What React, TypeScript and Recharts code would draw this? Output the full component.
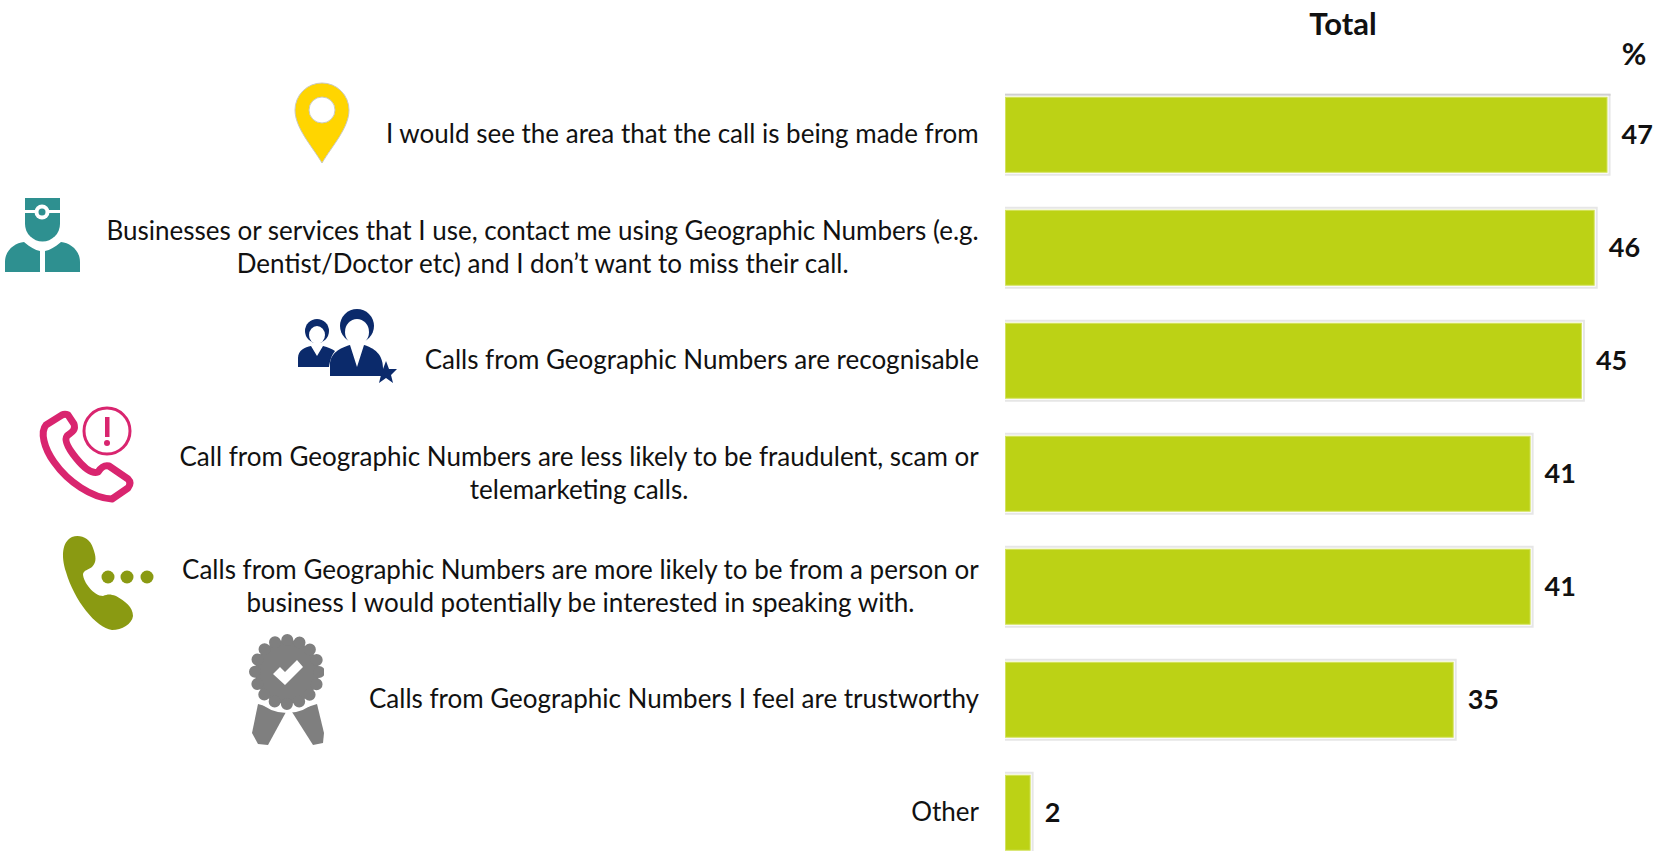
import React from "react";
import { Bar, BarChart, LabelList, XAxis, YAxis } from "recharts";

const categories = [
  "I would see the area that the call is being made from",
  "Businesses or services that I use, contact me using Geographic Numbers (e.g.\nDentist/Doctor etc) and I don’t want to miss their call.",
  "Calls from Geographic Numbers are recognisable",
  "Call from Geographic Numbers are less likely to be fraudulent, scam or\ntelemarketing calls.",
  "Calls from Geographic Numbers are more likely to be from a person or\nbusiness I would potentially be interested in speaking with.",
  "Calls from Geographic Numbers I feel are trustworthy",
  "Other",
];
const totals = [47, 46, 45, 41, 41, 35, 2];

const data = categories.map((name, i) => ({ name, total: totals[i] }));

const FONT = "Lato, Carlito, Calibri, sans-serif";
const FONT_SIZE = 26;
const BAR_COLOR = "#BCD215";

const measure = (text: string) => {
  const ctx = document.createElement("canvas").getContext("2d")!;
  ctx.font = `${FONT_SIZE}px Lato`;
  return ctx.measureText(text).width;
};

// lines are centred on each other, the block sits flush right against the bars
const CategoryTick = ({ x, y, payload }: any) => {
  const lines = String(payload.value).split("\n");
  const lineHeight = 33;
  const startY = y - ((lines.length - 1) * lineHeight) / 2 - 0.5;
  const widest = Math.max(...lines.map(measure));
  const cx = x - 2 - widest / 2;
  return (
    <text x={cx} y={startY} textAnchor="middle" fontFamily={FONT} fontSize={FONT_SIZE} fill="#111">
      {lines.map((line, i) => (
        <tspan key={i} x={cx} y={startY + i * lineHeight} dy="0.35em">
          {line}
        </tspan>
      ))}
    </text>
  );
};

// light halo round each bar, like the picture's soft shadow
const HaloBar = ({ x, y, width, height, fill, index }: any) => (
  <g>
    <rect x={x} y={y - 3} width={width + 3} height={height + 6} fill="#e6e6e6" />
    {index === 0 && <rect x={x} y={y - 3} width={width + 3} height={2} fill="#cfcfcf" />}
    <rect x={x} y={y - 1} width={width + 1} height={height + 2} fill="#ffffff" />
    <rect
      x={x + 0.5}
      y={y + 0.5}
      width={width - 1}
      height={height - 1}
      fill={fill}
      stroke="#D3E25E"
      strokeWidth={1}
    />
  </g>
);

const Icons = () => (
  <svg
    width={1654}
    height={851}
    style={{ position: "absolute", left: 0, top: 0, pointerEvents: "none" }}
  >
    <defs>
      <clipPath id="badgeClip">
        <rect x={240} y={625} width={84} height={130} />
      </clipPath>
    </defs>

    <text x={1343} y={35} textAnchor="middle" fontFamily={FONT} fontWeight={700} fontSize={31} fill="#111">
      Total
    </text>
    <text x={1634} y={65} textAnchor="middle" fontFamily={FONT} fontWeight={700} fontSize={30} fill="#111">
      %
    </text>

    {/* pin */}
    <path
      d="M322 163 C312 146 295 128 295 110 A27 27 0 0 1 349 110 C349 128 332 146 322 163 Z"
      fill="#FFD500"
      stroke="#c9c9c0"
      strokeWidth={1}
    />
    <circle cx={322} cy={110} r={13} fill="#fff" stroke="#c9c9c0" strokeWidth={1} />

    {/* doctor */}
    <g fill="#2E9090">
      <rect x={25} y={198} width={35} height={12} />
      <path d="M25 213 H60 V224 A17.5 17.5 0 0 1 25 224 Z" />
      <circle cx={42} cy={212} r={7.5} fill="#fff" />
      <circle cx={42} cy={212} r={3.5} />
      <path d="M5 272 V262 C5 250 15 243 24 242 C30 247 35 250 40 251 V272 Z" />
      <path d="M45 272 V251 C50 250 55 247 61 242 C70 243 80 250 80 262 V272 Z" />
    </g>

    {/* people */}
    <g fill="#0B2A6B">
      <circle cx={317} cy={331} r={12} />
      <ellipse cx={317} cy={335} rx={8} ry={9} fill="#fff" />
      <path d="M298 367 V358 C298 350 305 347 311 346 L317 356 L323 346 C328 347 332 349 335 351 C331 356 330 361 329 367 Z" />
      <circle cx={357} cy={326} r={17} />
      <ellipse cx={357} cy={332} rx={12} ry={13} fill="#fff" />
      <path d="M330 376 V365 C330 353 340 348 350 345 L357 367 L364 345 C374 348 383 354 383 368 V376 Z" />
      <path d="M386 361 L389 369 L397 369 L391 375 L393 383 L386 378 L379 383 L381 375 L375 369 L383 369 Z" />
    </g>

    {/* phone with warning */}
    <g fill="none" stroke="#D9256F">
      <path
        d="M62 415 L46 425 C40 432 44 448 54 462 C68 482 92 498 112 499 L128 488 C131 484 130 481 128 479 L109 466 C105 465 102 466 98 472 C92 474 84 468 76 458 C68 448 64 440 67 436 C72 432 76 430 74 424 L68 415 C66 414 64 414 62 415 Z"
        strokeWidth={7}
        strokeLinejoin="round"
      />
      <circle cx={107} cy={431} r={23} strokeWidth={3} />
    </g>
    <rect x={105} y={417} width={4.5} height={20} fill="#D9256F" />
    <circle cx={107} cy={443} r={3} fill="#D9256F" />

    {/* phone with dots */}
    <g fill="#8A9A12">
      <path d="M72 537 C80 534 90 538 93 548 C96 556 97 562 92 567 C88 570 84 570 83 574 C83 582 94 596 103 596 C108 594 110 594 116 596 C125 601 133 607 133 616 C132 624 122 630 112 630 C96 628 74 600 66 572 C61 556 62 542 72 537 Z" />
      <circle cx={108} cy={577} r={6.5} />
      <circle cx={127} cy={577} r={6.5} />
      <circle cx={147} cy={577} r={6.5} />
    </g>

    {/* badge */}
    <g clipPath="url(#badgeClip)" fill="#7F7F7F">
      <path d="M258 704 L286 712 L268 745 L258 744 L252 733 Z" />
      <path d="M292 712 L317 704 L324 733 L323 743 L313 745 Z" />
      <circle cx={287} cy={672} r={41} fill="#fff" />
      <circle cx={287} cy={672} r={32} />
      <circle cx={287} cy={672} r={32} fill="none" stroke="#7F7F7F" strokeWidth={12} strokeLinecap="round" strokeDasharray="0 12.57" />
      <path d="M273 674 L280 667 L285 672 L297 660 L303 667 L285 685 Z" fill="#fff" />
    </g>
  </svg>
);

export default function App() {
  return (
    <div
      style={{
        position: "absolute",
        left: 0,
        top: 0,
        width: 1654,
        height: 851,
        overflow: "hidden",
        background: "#fff",
      }}
    >
      <BarChart
        width={1654}
        height={869}
        data={data}
        layout="vertical"
        margin={{ top: 78, right: 8, bottom: 0, left: 0 }}
        barCategoryGap={18.75}
      >
        <XAxis type="number" domain={[0, 50]} hide />
        <YAxis
          type="category"
          dataKey="name"
          width={1005}
          axisLine={false}
          tickLine={false}
          tickMargin={18}
          interval={0}
          tick={<CategoryTick />}
        />
        <Bar
          dataKey="total"
          fill={BAR_COLOR}
          shape={<HaloBar />}
          isAnimationActive={false}
        >
          <LabelList
            dataKey="total"
            position="right"
            offset={14}
            fontFamily={FONT}
            fontWeight={700}
            fontSize={27}
            fill="#111"
          />
        </Bar>
      </BarChart>
      <Icons />
    </div>
  );
}
